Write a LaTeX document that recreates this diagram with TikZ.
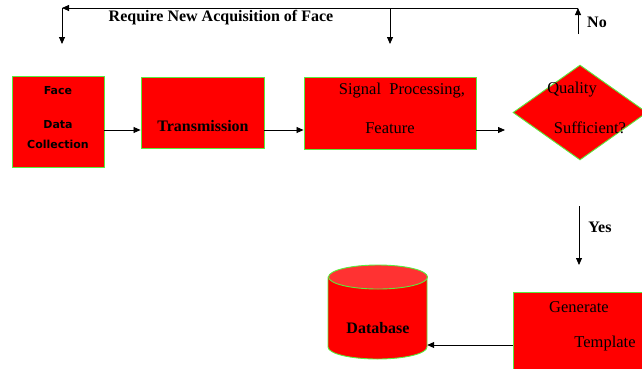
\documentclass[tikz,border=0pt]{standalone}
\usepackage{fontspec}
\setmainfont{Liberation Serif}
\newfontfamily\boxsans{DejaVu Sans}
\usetikzlibrary{arrows.meta,shapes.geometric}

\definecolor{boxred}{RGB}{255,0,0}
\definecolor{boxedge}{RGB}{90,235,60}
\definecolor{toplight}{RGB}{255,50,50}

\tikzset{
  stage/.style={draw=boxedge, line width=0.9pt, fill=boxred, rectangle, inner sep=0pt},
  flow/.style={draw=black, line width=0.8pt, -{Triangle[length=7pt,width=6pt]}},
  serifb/.style={font=\fontsize{16}{18}\selectfont\bfseries, inner sep=0pt},
  serifr/.style={font=\fontsize{16.5}{19}\selectfont, inner sep=0pt},
  sansb/.style={font=\boxsans\fontsize{11}{13}\selectfont\bfseries, inner sep=0pt},
}

\begin{document}
\begin{tikzpicture}[x=1pt,y=-1pt]
\useasboundingbox (0,0) rectangle (642,368);

% process stages
\node[stage, minimum width=92, minimum height=91] (collect) at (58,121.5) {};
\node[stage, minimum width=123, minimum height=71] (trans) at (202.5,112.5) {};
\node[stage, minimum width=172, minimum height=72] (proc) at (390,113) {};
\node[draw=boxedge, line width=0.9pt, fill=boxred, diamond, minimum width=134, minimum height=95, inner sep=0pt] (quality) at (580,112.5) {};
\node[stage, minimum width=150, minimum height=90, anchor=north west] (gen) at (513,292) {};

% database cylinder
\fill[boxred, draw=boxedge, line width=0.9pt]
  (328,277) -- (328,347) arc[start angle=180, end angle=0, x radius=49.5, y radius=12]
  -- (427,277) -- cycle;
\fill[toplight, draw=boxedge, line width=0.9pt] (378,277) ellipse[x radius=49.5, y radius=12];
\node[inner sep=0pt, minimum width=99, minimum height=70] (db) at (377.5,312) {};

% labels
\node[sansb] (t1) at (58,91) {Face};
\node[sansb] (t2) at (58,125) {Data};
\node[sansb] (t3) at (58,144) {Collection};
\node[serifb] (t4) at (203,126) {Transmission};
\node[serifr] (t5) at (402,91) {Signal\ \ Processing,};
\node[serifr] (t6) at (390,128) {Feature};
\node[serifr] (t7) at (572,90) {Quality};
\node[serifr] (t8) at (590,128) {Sufficient?};
\node[serifr] (t9) at (579,307) {Generate};
\node[serifr] (t10) at (605,344) {Template};
\node[serifb] (t11) at (378,328) {Database};
\node[serifb] (req) at (221,18) {Require New Acquisition of Face};
\node[serifb] (no) at (597,22) {No};
\node[serifb] (yes) at (600,227) {Yes};

% connector points
\coordinate (row) at (0,130);
\coordinate (qend) at (505,130);
\coordinate (dbrow) at (0,345);
\coordinate (noStart) at (578,34);
\coordinate (noTop) at (578,8);
\coordinate (leftTop) at (62,8);
\coordinate (leftEnd) at (62,44);
\coordinate (midTop) at (390,8);
\coordinate (midEnd) at (390,44);
\coordinate (yesStart) at (579,206);
\coordinate (yesEnd) at (579,265);

% main flow
\draw[flow] (collect.east |- row) -- (trans.west |- row);
\draw[flow] (trans.east |- row) -- (proc.west |- row);
\draw[flow] (proc.east |- row) -- (qend);
\draw[flow] (yesStart) -- (yesEnd);
\draw[flow] (gen.west |- dbrow) -- (db.east |- dbrow);

% retry loop
\draw[flow] (noStart) -- (noTop);
\draw[flow] (noTop) -- (leftTop);
\draw[flow] (leftTop) -- (leftEnd);
\draw[flow] (midTop) -- (midEnd);
\end{tikzpicture}
\end{document}
